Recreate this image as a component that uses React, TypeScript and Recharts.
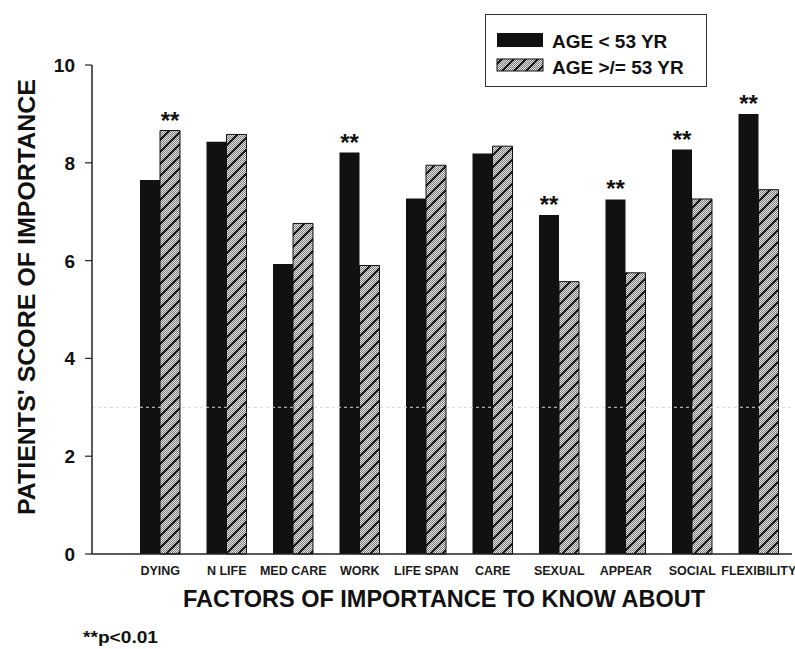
import { BarChart, Bar, XAxis, YAxis, Legend, LabelList, ReferenceLine } from "recharts";

const factors = ["DYING", "N LIFE", "MED CARE", "WORK", "LIFE SPAN", "CARE", "SEXUAL", "APPEAR", "SOCIAL", "FLEXIBILITY"];
const youngScores = [7.65, 8.43, 5.93, 8.21, 7.27, 8.19, 6.93, 7.25, 8.27, 9.0];
const olderScores = [8.66, 8.58, 6.76, 5.9, 7.95, 8.34, 5.57, 5.75, 7.26, 7.45];
// ** marks, p<0.01
const significant = [true, false, false, true, false, false, true, true, true, true];
const yTicks = [0, 2, 4, 6, 8, 10];

const data = factors.map((factor, i) => ({
	factor,
	young: youngScores[i],
	older: olderScores[i],
}));

const FONT = "'Liberation Sans', Arial, Helvetica, sans-serif";

// stippled grey ground with "/" hatching on top
const HatchDef = ({ id }: { id: string }) => (
	<>
		<pattern id={`${id}-dots`} patternUnits="userSpaceOnUse" width={2} height={2}>
			<rect width={2} height={2} fill="#e2e2e2" />
			<rect width={1} height={1} fill="#777" />
			<rect x={1} y={1} width={1} height={1} fill="#888" />
		</pattern>
		<pattern id={id} patternUnits="userSpaceOnUse" width={12} height={12}>
			<rect width={12} height={12} fill={`url(#${id}-dots)`} />
			<path d="M-3,3 L3,-3 M0,12 L12,0 M9,15 L15,9" stroke="#111" strokeWidth={2} />
		</pattern>
	</>
);

const Stars = (key: "young" | "older") => (props: any) => {
	const { x, y, width, index } = props;
	if (!significant[index]) return null;
	const row = data[index];
	const other = key === "young" ? row.older : row.young;
	if (row[key] < other) return null;
	return (
		<text
			x={x + width / 2}
			y={y - 2}
			textAnchor="middle"
			fontFamily={FONT}
			fontWeight="bold"
			fontSize={24}
			fill="#111"
		>
			**
		</text>
	);
};

const FactorTick = ({ x, y, payload }: any) => (
	<text x={x} y={y + 21} textAnchor="middle" fontFamily={FONT} fontWeight="bold" fontSize={12.5} fill="#1a1a1a">
		{payload.value}
	</text>
);

const ScoreTick = ({ x, y, payload }: any) => (
	<text x={x} y={y + 7} textAnchor="end" fontFamily={FONT} fontWeight="bold" fontSize={19} fill="#111">
		{payload.value}
	</text>
);

const AgeLegend = () => (
	<div
		style={{
			width: 222,
			height: 73,
			border: "1.5px solid #333",
			background: "#fff",
			boxSizing: "border-box",
			position: "relative",
		}}
	>
		<svg width={222} height={73} style={{ position: "absolute", left: 0, top: 0 }}>
			<defs>
				<HatchDef id="hatch-legend" />
			</defs>
			<rect x={11} y={18} width={46} height={14} fill="#111" />
			<rect x={11} y={44} width={46} height={12} fill="url(#hatch-legend)" stroke="#111" strokeWidth={1} />
			<text x={66} y={33} fontFamily={FONT} fontWeight="bold" fontSize={19} fill="#111">
				AGE &lt; 53 YR
			</text>
			<text x={66} y={59} fontFamily={FONT} fontWeight="bold" fontSize={19} fill="#111">
				AGE &gt;/= 53 YR
			</text>
		</svg>
	</div>
);

const App = () => {
	return (
		<div style={{ position: "absolute", left: 0, top: 0, width: 795, height: 649, background: "#fff" }}>
			<BarChart
				width={795}
				height={649}
				data={data}
				margin={{ top: 65, right: 3, bottom: 65, left: 0 }}
				barGap={0}
				barSize={20}
			>
				<defs>
					<HatchDef id="hatch" />
				</defs>
				<XAxis
					dataKey="factor"
					height={30}
					interval={0}
					tickLine={false}
					tickSize={0}
					tickMargin={0}
					padding={{ left: 35, right: 0 }}
					axisLine={{ stroke: "#222", strokeWidth: 1.5 }}
					tick={<FactorTick />}
				/>
				<YAxis
					width={92}
					domain={[0, 10]}
					ticks={yTicks}
					tickSize={7}
					tickMargin={10}
					axisLine={{ stroke: "#222", strokeWidth: 1.5 }}
					tickLine={{ stroke: "#222", strokeWidth: 1.2 }}
					tick={<ScoreTick />}
				/>
				<ReferenceLine y={3} stroke="#d4d4d4" strokeDasharray="3 3" />
				<Legend
					layout="vertical"
					align="center"
					verticalAlign="middle"
					content={<AgeLegend />}
					wrapperStyle={{ position: "absolute", left: 485, top: 14, width: 222 }}
				/>
				<Bar dataKey="young" name="AGE < 53 YR" fill="#111" isAnimationActive={false}>
					<LabelList dataKey="young" content={Stars("young")} />
				</Bar>
				<Bar
					dataKey="older"
					name="AGE >/= 53 YR"
					fill="url(#hatch)"
					stroke="#111"
					strokeWidth={1}
					isAnimationActive={false}
				>
					<LabelList dataKey="older" content={Stars("older")} />
				</Bar>
				<text
					x={26}
					y={297}
					transform="rotate(-90 26 297)"
					textAnchor="middle"
					dominantBaseline="central"
					fontFamily={FONT}
					fontWeight="bold"
					fontSize={24}
					fill="#111"
					textLength={436}
					lengthAdjust="spacingAndGlyphs"
				>
					PATIENTS' SCORE OF IMPORTANCE
				</text>
				<text
					x={444}
					y={607}
					textAnchor="middle"
					fontFamily={FONT}
					fontWeight="bold"
					fontSize={23}
					fill="#111"
					textLength={522}
					lengthAdjust="spacingAndGlyphs"
				>
					FACTORS OF IMPORTANCE TO KNOW ABOUT
				</text>
				<text
					x={83}
					y={643}
					fontFamily={FONT}
					fontWeight="bold"
					fontSize={17}
					fill="#111"
					textLength={75}
					lengthAdjust="spacingAndGlyphs"
				>
					**p&lt;0.01
				</text>
			</BarChart>
		</div>
	);
};

export default App;
